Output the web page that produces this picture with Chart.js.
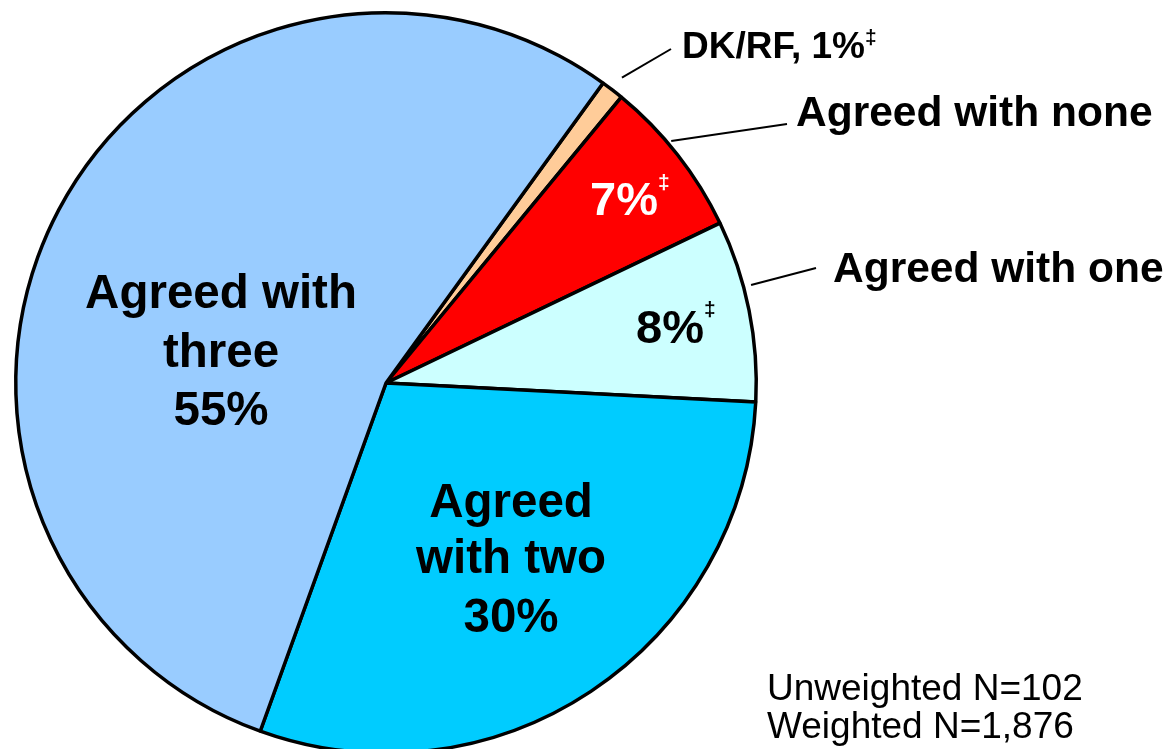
<!DOCTYPE html>
<html>
<head>
<meta charset="utf-8">
<title>Agreement</title>
<script src="https://cdn.jsdelivr.net/npm/chart.js@4.4.0/dist/chart.umd.min.js"></script>
<style>
    html, body { margin: 0; padding: 0; background: #fff; overflow: hidden; }
    canvas { display: block; }
</style>
</head>
<body>
<canvas id="pieChart" width="1167" height="760"></canvas>
<script>
// 区分と割合（%）
const categories = ['DK/RF', 'Agreed with none', 'Agreed with one', 'Agreed with two', 'Agreed with three'];
const shares = [1, 7, 8, 30, 55];
const sliceColors = ['#FFCC99', '#FF0000', '#CCFFFF', '#00CCFF', '#99CCFF'];

const FONT = '"Liberation Sans", Arial, Helvetica, sans-serif';

// 扇形内のラベル（中央揃え、複数行）
const innerLabels = [
    { lines: ['Agreed with', 'three', '55%'], x: 221, y: [308, 367, 425] },
    { lines: ['Agreed', 'with two', '30%'], x: 511, y: [517, 573, 632] }
];

// 小さい区分の数値ラベル（‡付き）
const percentLabels = [
    { text: '7%', x: 590, y: 215, size: 47, color: '#fff', daggerY: 189 },
    { text: '8%', x: 636, y: 343, size: 47, color: '#000', daggerY: 316 }
];

// 外側のラベルと引き出し線（at: 扇形内の角度位置, dist: 中心からの距離）
const outerLabels = [
    { index: 0, text: 'DK/RF, 1%', x: 682, y: 58, size: 37, at: 0.5, dist: 386, end: [671, 49], daggerY: 44 },
    { index: 1, text: 'Agreed with none', x: 796, y: 126, size: 42.5, at: 0.41, dist: 374, end: [787, 124] },
    { index: 2, text: 'Agreed with one', x: 833, y: 282, size: 42.5, at: 0.37, dist: 378, end: [816, 268] }
];

const noteLines = ['Unweighted N=102', 'Weighted N=1,876'];

function drawDagger(ctx, x, y, color) {
    ctx.save();
    ctx.font = 'bold 21px ' + FONT;
    ctx.fillStyle = color;
    ctx.textAlign = 'left';
    ctx.fillText('\u2021', x, y);
    ctx.restore();
}

// ラベル描画用プラグイン
const labelPlugin = {
    id: 'pieLabels',
    afterDraw(chart) {
        const ctx = chart.ctx;
        const arcs = chart.getDatasetMeta(0).data;
        ctx.save();
        ctx.textBaseline = 'alphabetic';

        // 扇形内のラベル
        ctx.fillStyle = '#000';
        ctx.textAlign = 'center';
        ctx.font = 'bold 47.5px ' + FONT;
        innerLabels.forEach(l => {
            l.lines.forEach((line, i) => ctx.fillText(line, l.x, l.y[i]));
        });

        // 数値ラベル
        ctx.textAlign = 'left';
        percentLabels.forEach(l => {
            ctx.font = 'bold ' + l.size + 'px ' + FONT;
            ctx.fillStyle = l.color;
            ctx.fillText(l.text, l.x, l.y);
            const w = ctx.measureText(l.text).width;
            drawDagger(ctx, l.x + w, l.daggerY, l.color);
        });

        // 引き出し線と外側のラベル
        outerLabels.forEach(l => {
            const arc = arcs[l.index];
            const p = arc.getProps(['x', 'y', 'startAngle', 'endAngle']);
            const a = p.startAngle + (p.endAngle - p.startAngle) * l.at;
            const sx = p.x + Math.cos(a) * l.dist;
            const sy = p.y + Math.sin(a) * l.dist;
            ctx.strokeStyle = '#000';
            ctx.lineWidth = 2;
            ctx.beginPath();
            ctx.moveTo(sx, sy);
            ctx.lineTo(l.end[0], l.end[1]);
            ctx.stroke();

            ctx.fillStyle = '#000';
            ctx.font = 'bold ' + l.size + 'px ' + FONT;
            ctx.fillText(l.text, l.x, l.y);
            if (l.daggerY) {
                const w = ctx.measureText(l.text).width;
                drawDagger(ctx, l.x + w, l.daggerY, '#000');
            }
        });

        // サンプル数
        ctx.font = '37px ' + FONT;
        ctx.fillStyle = '#000';
        ctx.fillText(noteLines[0], 767, 700);
        ctx.fillText(noteLines[1], 767, 738);
        ctx.restore();
    }
};

new Chart(document.getElementById('pieChart'), {
    type: 'pie',
    data: {
        labels: categories,
        datasets: [{
            data: shares,
            backgroundColor: sliceColors,
            borderColor: '#000',
            borderWidth: 3.5
        }]
    },
    options: {
        responsive: false,
        animation: false,
        rotation: 35.9,
        layout: { padding: { left: 14, right: 409, top: 11, bottom: 5 } },
        plugins: {
            legend: { display: false },
            tooltip: { enabled: false }
        }
    },
    plugins: [labelPlugin]
});
</script>
</body>
</html>
